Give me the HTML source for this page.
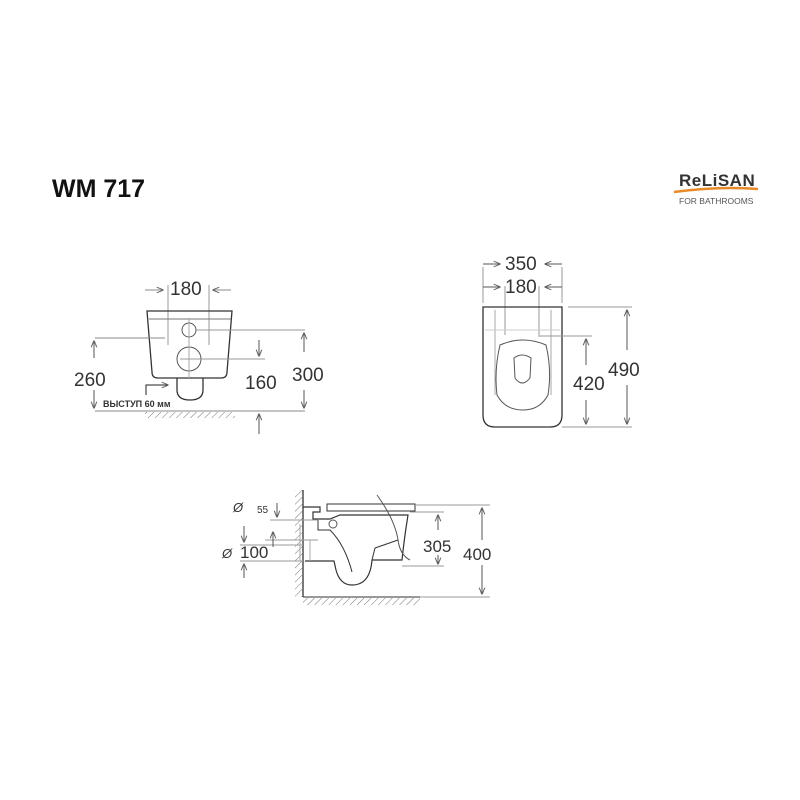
<!DOCTYPE html>
<html><head><meta charset="utf-8"><style>
html,body{margin:0;padding:0;background:#fff;}
svg{display:block;}
text{font-family:"Liberation Sans",sans-serif;}
</style></head><body>
<svg width="800" height="800" viewBox="0 0 800 800" xmlns="http://www.w3.org/2000/svg">
<defs>
<marker id="a" viewBox="0 0 10 10" refX="9" refY="5" markerWidth="7" markerHeight="7" orient="auto"><path d="M0,1 L10,5 L0,9" fill="none" stroke="#666" stroke-width="1.5"/></marker>
<pattern id="h" width="5" height="5" patternUnits="userSpaceOnUse" patternTransform="rotate(45)"><line x1="0" y1="0" x2="0" y2="5" stroke="#777" stroke-width="1"/></pattern>
</defs>
<text x="52" y="197" font-size="25" font-weight="bold" fill="#111">WM 717</text>
<text x="679" y="186" font-size="17" font-weight="bold" fill="#333" letter-spacing="0.5">ReLiSAN</text>
<path d="M674,192 Q720,186 758,189" stroke="#e8892a" stroke-width="2.5" fill="none"/>
<text x="679" y="204" font-size="8.5" fill="#555">FOR BATHROOMS</text>

<g stroke="#555" fill="none" stroke-width="1">
<!-- front view -->
<line x1="168" y1="285" x2="168" y2="345" stroke="#999"/>
<line x1="209" y1="285" x2="209" y2="345" stroke="#999"/>
<line x1="145" y1="290" x2="163" y2="290" marker-end="url(#a)" stroke="#888"/>
<line x1="231" y1="290" x2="213" y2="290" marker-end="url(#a)" stroke="#888"/>
<path d="M147,311 L232,311 L227,372 Q227,378 221,378 L158,378 Q152,378 152,372 Z" stroke="#333" stroke-width="1.3"/>
<line x1="149" y1="319" x2="231" y2="319" stroke="#777"/>
<circle cx="189" cy="330" r="7"/>
<circle cx="189" cy="359" r="12"/>
<line x1="189" y1="318" x2="189" y2="378" stroke="#aaa"/>
<path d="M177,378 L177,390 Q177,400 190,400 Q203,400 203,390 L203,378" stroke="#333" stroke-width="1.3"/>
<line x1="95" y1="338" x2="165" y2="338" stroke="#888"/>
<line x1="195" y1="330" x2="305" y2="330" stroke="#999"/>
<line x1="180" y1="359" x2="265" y2="359" stroke="#999"/>
<line x1="95" y1="411" x2="305" y2="411" stroke="#888"/>
<rect x="145" y="412" width="90" height="6" fill="url(#h)" stroke="none"/>
<line x1="94" y1="358" x2="94" y2="341" marker-end="url(#a)"/>
<line x1="94" y1="390" x2="94" y2="408" marker-end="url(#a)"/>
<line x1="259" y1="340" x2="259" y2="356" marker-end="url(#a)"/>
<line x1="259" y1="434" x2="259" y2="414" marker-end="url(#a)"/>
<line x1="304" y1="352" x2="304" y2="333" marker-end="url(#a)"/>
<line x1="304" y1="390" x2="304" y2="408" marker-end="url(#a)"/>
<path d="M146,395 L146,385 L168,385" stroke="#222" marker-end="url(#a)"/>
<!-- top view -->
<line x1="483" y1="267" x2="483" y2="303" stroke="#999"/>
<line x1="562" y1="267" x2="562" y2="303" stroke="#999"/>
<line x1="483" y1="264" x2="500" y2="264" marker-end="url(#a)"/>
<line x1="562" y1="264" x2="545" y2="264" marker-end="url(#a)"/>
<line x1="483" y1="287" x2="500" y2="287" marker-end="url(#a)"/>
<line x1="562" y1="287" x2="545" y2="287" marker-end="url(#a)"/>
<line x1="505" y1="286" x2="505" y2="335" stroke="#999"/>
<line x1="539" y1="286" x2="539" y2="335" stroke="#999"/>
<path d="M483,307 L562,307 L562,415 Q562,427 550,427 L495,427 Q483,427 483,415 Z" stroke="#333" stroke-width="1.3"/>
<line x1="495" y1="310" x2="495" y2="395" stroke="#aaa"/>
<line x1="551" y1="310" x2="551" y2="395" stroke="#aaa"/>
<line x1="485" y1="330" x2="560" y2="330" stroke="#ccc"/>
<path d="M500,345 Q523,335 546,345 Q552,370 548,395 Q540,410 523,410 Q505,410 497,395 Q494,370 500,345 Z"/>
<path d="M514,358 Q522,352 531,358 L530,378 Q522,388 515,378 Z"/>
<line x1="568" y1="307" x2="632" y2="307" stroke="#999"/>
<line x1="538" y1="336" x2="592" y2="336" stroke="#999"/>
<line x1="562" y1="427" x2="632" y2="427" stroke="#999"/>
<line x1="586" y1="365" x2="586" y2="339" marker-end="url(#a)"/>
<line x1="586" y1="400" x2="586" y2="424" marker-end="url(#a)"/>
<line x1="627" y1="350" x2="627" y2="310" marker-end="url(#a)"/>
<line x1="627" y1="385" x2="627" y2="424" marker-end="url(#a)"/>
<!-- side view -->
<line x1="303" y1="490" x2="303" y2="597" stroke="#333" stroke-width="1.3"/>
<rect x="295" y="490" width="8" height="107" fill="url(#h)" stroke="none"/>
<line x1="303" y1="597" x2="420" y2="597" stroke="#333"/>
<rect x="303" y="598" width="117" height="7" fill="url(#h)" stroke="none"/>
<rect x="327" y="504" width="88" height="7" stroke="#333"/>
<path d="M303,507 L320,507 L320,512 L313,512 L313,519 L330,519 L340,515 L408,515 Q404,540 402,560 L372,560 Q370,585 352,585 Q340,585 336,570 L334,561 L305,561" stroke="#333" stroke-width="1.2"/>
<path d="M398,540 L375,548 L372,560" stroke="#333"/>
<path d="M318,520 L318,530 L330,530 Q345,545 352,572" stroke="#333"/>
<circle cx="333" cy="524" r="4"/>
<path d="M377,495 Q395,520 398,540 Q400,555 410,560" stroke="#555"/>
<line x1="270" y1="520" x2="318" y2="520" stroke="#999"/>
<line x1="265" y1="540" x2="318" y2="540" stroke="#999"/>
<line x1="240" y1="545" x2="303" y2="545" stroke="#999"/>
<line x1="240" y1="561" x2="303" y2="561" stroke="#999"/>
<line x1="300" y1="524" x2="300" y2="561" stroke="#aaa"/>
<line x1="310" y1="540" x2="310" y2="561" stroke="#aaa"/>
<line x1="410" y1="512" x2="444" y2="512" stroke="#999"/>
<line x1="402" y1="566" x2="444" y2="566" stroke="#999"/>
<line x1="415" y1="505" x2="490" y2="505" stroke="#999"/>
<line x1="420" y1="597" x2="490" y2="597" stroke="#999"/>
<line x1="438" y1="530" x2="438" y2="515" marker-end="url(#a)"/>
<line x1="438" y1="555" x2="438" y2="564" marker-end="url(#a)"/>
<line x1="482" y1="540" x2="482" y2="508" marker-end="url(#a)"/>
<line x1="482" y1="565" x2="482" y2="594" marker-end="url(#a)"/>
<line x1="277" y1="503" x2="277" y2="517" marker-end="url(#a)"/>
<line x1="244" y1="526" x2="244" y2="542" marker-end="url(#a)"/>
<line x1="244" y1="578" x2="244" y2="564" marker-end="url(#a)"/>
<line x1="273" y1="547" x2="273" y2="532" marker-end="url(#a)"/>
</g>
<g fill="#333">
<text x="170" y="295" font-size="19">180</text>
<text x="74" y="386" font-size="19">260</text>
<text x="245" y="389" font-size="19">160</text>
<text x="292" y="381" font-size="19">300</text>
<text x="103" y="407" font-size="9" font-weight="bold">ВЫСТУП 60 мм</text>
<text x="505" y="270" font-size="19">350</text>
<text x="505" y="293" font-size="19">180</text>
<text x="573" y="390" font-size="19">420</text>
<text x="608" y="376" font-size="19">490</text>
<text x="233" y="512" font-size="13" font-style="italic">Ø</text>
<text x="257" y="513" font-size="10">55</text>
<text x="222" y="558" font-size="13" font-style="italic">Ø</text>
<text x="240" y="558" font-size="17">100</text>
<text x="423" y="552" font-size="17">305</text>
<text x="463" y="560" font-size="17">400</text>
</g>
</svg>
</body></html>
